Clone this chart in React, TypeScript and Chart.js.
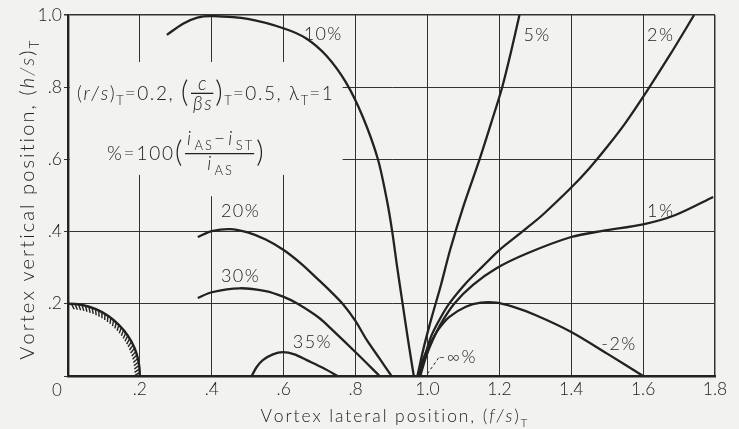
import React, { useEffect, useRef } from 'react';
import { Chart, registerables } from 'chart.js';

Chart.register(...registerables);

// ---- axis text -------------------------------------------------------------
const xTickLabels = ['', '.2', '.4', '.6', '.8', '1.0', '1.2', '1.4', '1.6', '1.8'];
const yTickLabels = ['', '.2', '.4', '.6', '.8', '1.0'];
const originLabel = '0';

// hub radius (r/s)_T, drawn as the hatched quarter circle at the origin
const hubRadius = 0.2;

// ---- vortex-position curves, [lateral f/s, vertical h/s] ------------------
const curve10: [number, number][] = [
  [0.275, 0.945], [0.32, 0.976], [0.36, 0.993], [0.403, 0.997], [0.5, 0.989],
  [0.603, 0.962], [0.663, 0.935], [0.719, 0.887], [0.774, 0.812], [0.82, 0.718],
  [0.862, 0.601], [0.887, 0.488], [0.902, 0.4], [0.916, 0.3], [0.931, 0.2],
  [0.946, 0.1], [0.962, 0],
];
const curve20: [number, number][] = [
  [0.361, 0.385], [0.4, 0.401], [0.45, 0.407], [0.5, 0.398], [0.55, 0.378],
  [0.6, 0.349], [0.65, 0.31], [0.692, 0.271], [0.73, 0.235], [0.764, 0.2],
  [0.8, 0.152], [0.831, 0.1], [0.867, 0.048], [0.9, 0],
];
const curve30: [number, number][] = [
  [0.361, 0.216], [0.4, 0.232], [0.478, 0.243], [0.55, 0.235], [0.6, 0.219],
  [0.639, 0.2], [0.7, 0.16], [0.736, 0.127], [0.803, 0.063], [0.867, 0],
];
const curve35: [number, number][] = [
  [0.511, 0], [0.525, 0.025], [0.542, 0.044], [0.57, 0.06], [0.598, 0.066],
  [0.63, 0.06], [0.664, 0.044], [0.71, 0.022], [0.75, 0],
];
const curve5: [number, number][] = [
  [0.972, 0], [0.99, 0.08], [1.012, 0.163], [1.037, 0.25], [1.063, 0.349],
  [1.1, 0.47], [1.145, 0.6], [1.177, 0.7], [1.208, 0.8], [1.233, 0.9], [1.256, 1.0],
];
const curve2: [number, number][] = [
  [0.976, 0], [0.992, 0.053], [1.01, 0.109], [1.033, 0.155], [1.061, 0.201],
  [1.107, 0.257], [1.153, 0.303], [1.2, 0.349], [1.269, 0.404], [1.32, 0.446],
  [1.4, 0.522], [1.45, 0.575], [1.5, 0.635], [1.55, 0.7], [1.611, 0.79],
  [1.675, 0.89], [1.742, 1.0],
];
const curve1: [number, number][] = [
  [0.98, 0], [0.996, 0.053], [1.015, 0.1], [1.038, 0.146], [1.075, 0.201],
  [1.126, 0.252], [1.191, 0.298], [1.278, 0.34], [1.4, 0.385], [1.487, 0.402],
  [1.6, 0.42], [1.69, 0.446], [1.795, 0.496],
];
const curveMinus2: [number, number][] = [
  [0.973, 0], [0.987, 0.044], [1.006, 0.086], [1.029, 0.127], [1.061, 0.164],
  [1.107, 0.192], [1.149, 0.203], [1.191, 0.203], [1.237, 0.192], [1.3, 0.169],
  [1.4, 0.122], [1.5, 0.062], [1.6, 0],
];
// dashed leader to the -∞% point
const leaderInf: [number, number][] = [[1.0, 0.006], [1.033, 0.053]];

const curves = [curve10, curve20, curve30, curve35, curve5, curve2, curve1, curveMinus2];
const curveNames = ['10%', '20%', '30%', '35%', '5%', '2%', '1%', '-2%'];
const infName = '-∞%';

// where each curve name sits (data coordinates, text centre)
const nameAnchors: [number, number][] = [
  [0.708, 0.947], [0.478, 0.457], [0.478, 0.277], [0.678, 0.094],
  [1.303, 0.945], [1.647, 0.945], [1.647, 0.457], [1.531, 0.089],
];
const infAnchor: [number, number] = [1.031, 0.053];

// ---- look ------------------------------------------------------------------
const PAPER = '#f2f2f0';
const INK = '#222';
const FONT = 'Lato, "DejaVu Sans", sans-serif';
const WEIGHT = 300;

type Txt = { t: string; it?: boolean; sub?: boolean; big?: number };
type Frac = { num: Txt[]; den: Txt[]; sp?: number };
type Run = Txt | Frac;

const paramLine: Run[] = [
  { t: '(' }, { t: 'r/s', it: true }, { t: ')' }, { t: 'T', sub: true },
  { t: '=0.2, ' }, { t: '(', big: 1.5 },
  { num: [{ t: 'c', it: true }], den: [{ t: 'βs', it: true }] },
  { t: ')', big: 1.5 }, { t: 'T', sub: true }, { t: '=0.5, ' },
  { t: 'λ' }, { t: 'T', sub: true }, { t: '=1' },
];
const percentLine: Run[] = [
  { t: '%=100' }, { t: '(', big: 1.5 },
  {
    num: [{ t: 'i', it: true }, { t: 'AS', sub: true }, { t: '−' }, { t: 'i', it: true }, { t: 'ST', sub: true }],
    den: [{ t: 'i', it: true }, { t: 'AS', sub: true }],
    sp: 3.4,
  },
  { t: ')', big: 1.5 },
];
const xTitle: Txt[] = [{ t: 'Vortex lateral position, (' }, { t: 'f/s', it: true }, { t: ')' }, { t: 'T', sub: true }];
const yTitle: Txt[] = [{ t: 'Vortex vertical position, (' }, { t: 'h/s', it: true }, { t: ')' }, { t: 'T', sub: true }];

function setFont(ctx: CanvasRenderingContext2D, size: number, italic = false) {
  ctx.font = `${italic ? 'italic ' : ''}${WEIGHT} ${size}px ${FONT}`;
}
function sizeOf(r: Txt, size: number) {
  return r.sub ? size * 0.68 : size * (r.big ?? 1);
}
// letter-spaced text, drawn glyph by glyph
function spacedWidth(ctx: CanvasRenderingContext2D, s: string, sp: number) {
  let w = 0;
  for (const ch of s) w += ctx.measureText(ch).width + sp;
  return w;
}
function spacedText(ctx: CanvasRenderingContext2D, s: string, x: number, y: number, sp: number) {
  for (const ch of s) {
    ctx.fillText(ch, x, y);
    x += ctx.measureText(ch).width + sp;
  }
  return x;
}
function seqWidth(ctx: CanvasRenderingContext2D, runs: Txt[], size: number, sp: number) {
  let w = 0;
  for (const r of runs) {
    setFont(ctx, sizeOf(r, size), r.it);
    w += spacedWidth(ctx, r.t, r.sub ? sp * 0.6 : sp);
  }
  return w;
}
function drawSeq(ctx: CanvasRenderingContext2D, runs: Txt[], x: number, base: number, size: number, sp: number) {
  for (const r of runs) {
    setFont(ctx, sizeOf(r, size), r.it);
    const dy = r.sub ? size * 0.26 : r.big ? size * (0.28 * r.big - 0.34) : 0;
    x = spacedText(ctx, r.t, x, base + dy, r.sub ? sp * 0.6 : sp);
  }
  return x;
}
function drawRich(ctx: CanvasRenderingContext2D, runs: Run[], x: number, base: number, size: number, sp: number) {
  for (const r of runs) {
    if ('num' in r) {
      const fsp = r.sp ?? sp;
      const wn = seqWidth(ctx, r.num, size, fsp);
      const wd = seqWidth(ctx, r.den, size, fsp);
      const w = Math.max(wn, wd) + 4;
      const bar = base - size * 0.36;
      const numHasSub = r.num.some((t) => t.sub);
      const numBase = bar - 3 - (numHasSub ? size * 0.3 : 0);
      const denBase = bar + 3 + size * 0.72;
      drawSeq(ctx, r.num, x + (w - wn) / 2 + 1, numBase, size, fsp);
      drawSeq(ctx, r.den, x + (w - wd) / 2 + 1, denBase, size, fsp);
      ctx.beginPath();
      ctx.moveTo(x + 1, bar);
      ctx.lineTo(x + w - 1, bar);
      ctx.lineWidth = 1.3;
      ctx.stroke();
      x += w + 1;
    } else {
      x = drawSeq(ctx, [r], x, base, size, sp);
    }
  }
  return x;
}

// paper-coloured patches where the drafted grid is left open behind the notes
const gridBreaks = {
  id: 'gridBreaks',
  beforeDatasetsDraw(chart: Chart) {
    const { ctx, scales } = chart;
    const xs = scales.x, ys = scales.y;
    ctx.save();
    ctx.fillStyle = PAPER;
    const l = xs.getPixelForValue(0) + 2;
    ctx.fillRect(l, ys.getPixelForValue(0.87), xs.getPixelForValue(0.764) - l, ys.getPixelForValue(0.557) - ys.getPixelForValue(0.87));
    ctx.fillRect(xs.getPixelForValue(0.38), ys.getPixelForValue(0.557), xs.getPixelForValue(0.42) - xs.getPixelForValue(0.38), ys.getPixelForValue(0.498) - ys.getPixelForValue(0.557));

    // hatched hub outline
    const cx = xs.getPixelForValue(0), cy = ys.getPixelForValue(0);
    const rx = xs.getPixelForValue(hubRadius) - cx;
    const ry = cy - ys.getPixelForValue(hubRadius);
    ctx.strokeStyle = INK;
    ctx.lineWidth = 2.4;
    ctx.beginPath();
    ctx.ellipse(cx, cy, rx, ry, 0, -Math.PI / 2, 0);
    ctx.stroke();
    ctx.lineWidth = 1.4;
    const n = 32;
    for (let i = 1; i < n; i++) {
      const a = (i / n) * (Math.PI / 2);
      const px = cx + rx * Math.cos(a), py = cy - ry * Math.sin(a);
      const d = a + Math.PI + 0.5;
      ctx.beginPath();
      ctx.moveTo(px, py);
      ctx.lineTo(px + 6 * Math.cos(d), py - 6 * Math.sin(d));
      ctx.stroke();
    }
    ctx.restore();
  },
};

const annotations = {
  id: 'annotations',
  afterDatasetsDraw(chart: Chart) {
    const { ctx, scales } = chart;
    const xs = scales.x, ys = scales.y;
    ctx.save();
    ctx.fillStyle = INK;
    ctx.strokeStyle = INK;
    ctx.textAlign = 'left';

    // curve names
    setFont(ctx, 18);
    ctx.textBaseline = 'middle';
    const sp = 1.4;
    curveNames.forEach((name, i) => {
      const [x, y] = nameAnchors[i];
      const w = spacedWidth(ctx, name, sp) - sp;
      spacedText(ctx, name, xs.getPixelForValue(x) - w / 2, ys.getPixelForValue(y), sp);
    });
    spacedText(ctx, infName, xs.getPixelForValue(infAnchor[0]), ys.getPixelForValue(infAnchor[1]), sp);

    // origin label shared by both axes
    setFont(ctx, 17);
    const ow = ctx.measureText(originLabel).width;
    ctx.fillText(originLabel, xs.getPixelForValue(0) - 11 - ow / 2, ys.getPixelForValue(0) + 15);

    // parameter notes
    ctx.textBaseline = 'alphabetic';
    drawRich(ctx, paramLine, xs.getPixelForValue(0) + 9, ys.getPixelForValue(0.8) + 13, 19, 1.6);
    drawRich(ctx, percentLine, xs.getPixelForValue(0) + 39, ys.getPixelForValue(0.6) + 1, 19, 1.8);

    // axis titles
    const ts = 17.5, tsp = 1.9;
    const wx = seqWidth(ctx, xTitle, ts, tsp);
    drawSeq(ctx, xTitle, (xs.left + xs.right) / 2 + 3 - wx / 2, 422, ts, tsp);
    const ty = 20, tysp = 2.1;
    const wy = seqWidth(ctx, yTitle, ty, tysp);
    ctx.translate(34, (ys.top + ys.bottom) / 2 + 4);
    ctx.rotate(-Math.PI / 2);
    drawSeq(ctx, yTitle, -wy / 2, 0, ty, tysp);
    ctx.restore();
  },
};

export default function App() {
  const ref = useRef<HTMLCanvasElement>(null);

  useEffect(() => {
    if (!ref.current) return;
    const datasets: any[] = curves.map((c, i) => ({
      label: curveNames[i],
      data: c.map(([x, y]) => ({ x, y })),
      borderColor: INK,
      borderWidth: 2.3,
      pointRadius: 0,
      tension: 0.3,
      fill: false,
    }));
    datasets.push({
      label: infName,
      data: leaderInf.map(([x, y]) => ({ x, y })),
      borderColor: INK,
      borderWidth: 1,
      borderDash: [3, 2.5],
      pointRadius: 0,
      fill: false,
    });

    const tickFont = { family: FONT, size: 17.5, weight: String(WEIGHT) as any };

    const chart = new Chart(ref.current, {
      type: 'line',
      data: { datasets },
      plugins: [gridBreaks, annotations],
      options: {
        responsive: false,
        devicePixelRatio: 1,
        animation: false,
        layout: { padding: { top: 15, right: 24, left: 0, bottom: 0 } },
        plugins: { legend: { display: false }, tooltip: { enabled: false } },
        scales: {
          x: {
            type: 'linear',
            min: 0,
            max: 1.8,
            afterFit: (s: any) => { s.height = 53; },
            ticks: {
              stepSize: 0.2,
              autoSkip: false,
              maxRotation: 0,
              padding: 3,
              color: INK,
              font: tickFont,
              callback: (v: any) => xTickLabels[Math.round(Number(v) * 5)] ?? '',
            },
            grid: {
              color: '#333',
              lineWidth: (c: any) => (c.tick && Math.abs(c.tick.value - 1.8) < 1e-6 ? 1.5 : 1),
              drawTicks: false,
            },
            border: { display: true, color: INK, width: 2.4 },
          },
          y: {
            type: 'linear',
            min: 0,
            max: 1.0,
            afterFit: (s: any) => { s.width = 68; },
            ticks: {
              stepSize: 0.2,
              autoSkip: false,
              padding: 2,
              color: INK,
              font: tickFont,
              callback: (v: any) => yTickLabels[Math.round(Number(v) * 5)] ?? '',
            },
            grid: {
              color: '#333',
              lineWidth: (c: any) => (c.tick && Math.abs(c.tick.value - 1.0) < 1e-6 ? 1.5 : 1),
              drawTicks: true,
              tickLength: 4,
            },
            border: { display: true, color: INK, width: 2.4 },
          },
        },
      },
    });
    return () => chart.destroy();
  }, []);

  return (
    <div style={{ position: 'absolute', left: 0, top: 0, width: 739, height: 429, background: PAPER }}>
      <canvas ref={ref} width={739} height={429} style={{ display: 'block' }} />
    </div>
  );
}
